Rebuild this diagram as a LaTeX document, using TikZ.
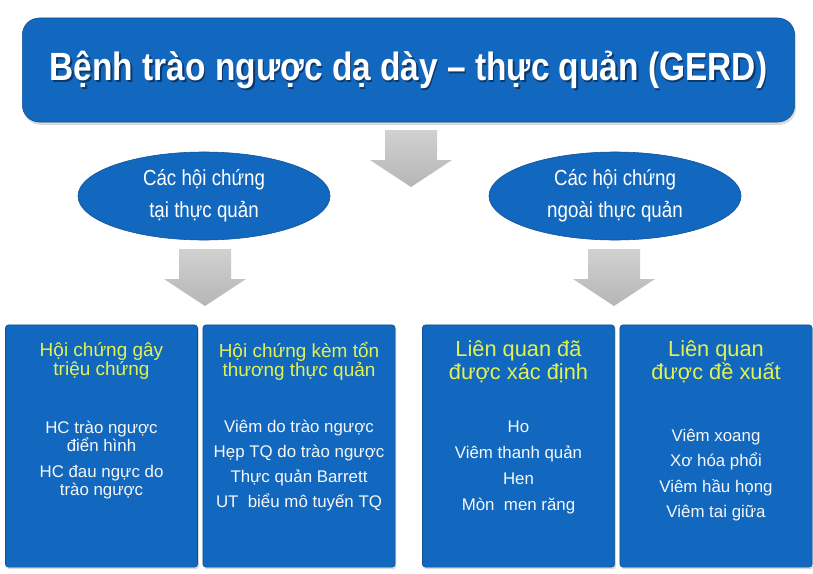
\documentclass[tikz,border=0pt]{standalone}
\usepackage{fontspec}
\setmainfont{Liberation Sans}
\newfontfamily\narrowsf[FakeStretch=0.86]{Liberation Sans}
\newfontfamily\titlesf[FakeStretch=0.85]{Liberation Sans Bold}
\usetikzlibrary{positioning,shapes.geometric,shadows}

\definecolor{gerdblue}{RGB}{18,104,190}
\definecolor{edgeblue}{RGB}{14,80,150}
\definecolor{headyellow}{RGB}{226,242,84}
\definecolor{arrgray}{RGB}{178,178,178}
\definecolor{shadeblue}{RGB}{10,35,70}

\tikzset{
  downarr/.pic={
    \shade[top color=arrgray!60, bottom color=arrgray!95]
      (-26,0) -- (26,0) -- (26,30) -- (41,30) -- (0,57) -- (-41,30) -- (-26,30) -- cycle;
  }
}

\begin{document}
\begin{tikzpicture}[
  x=0.025cm, y=-0.025cm,
  titlebox/.style={fill=gerdblue, draw=edgeblue, rounded corners=12pt,
                   minimum width=19.3cm, minimum height=2.6cm,
                   drop shadow={shadow xshift=1pt, shadow yshift=-2pt, opacity=0.3}},
  titletext/.style={text=white, font=\titlesf\fontsize{28}{30}\selectfont},
  group/.style={ellipse, fill=gerdblue, draw=edgeblue, minimum width=6.3cm, minimum height=2.2cm,
                inner sep=0pt, text=white, align=center,
                font=\narrowsf\fontsize{15.5}{22.5}\selectfont},
  panel/.style={fill=gerdblue, draw=edgeblue, rounded corners=2pt,
                minimum width=4.8cm, minimum height=6.05cm,
                drop shadow={shadow xshift=1pt, shadow yshift=-1.5pt, opacity=0.3}},
  head/.style={text=headyellow, align=center, font=\fontsize{13.5}{13.5}\selectfont},
  bighead/.style={text=headyellow, align=center, font=\fontsize{15.5}{16.5}\selectfont},
  items/.style={text=white!94!gray, align=center, font=\fontsize{12}{13}\selectfont},
]
\useasboundingbox (0,0) rectangle (813,573);

% top box
\node[titlebox] (gerd) at (408.5,70) {};
\node[titletext, text=shadeblue, opacity=0.7] (gerdShade) at (410,71.8) {Bệnh trào ngược dạ dày – thực quản (GERD)};
\node[titletext] (gerdText) at (408.5,70) {Bệnh trào ngược dạ dày – thực quản (GERD)};
\pic at (411,130) {downarr};

% two groups
\node[group] (grpIn)  at (204,196) {Các hội chứng\\tại thực quản};
\node[group] (grpOut) at (615,196) {Các hội chứng\\ngoài thực quản};
\pic at (205,249) {downarr};
\pic at (614,249) {downarr};

% panels
\node[panel] (pA) at (101.5,446) {};
\node[panel] (pB) at (299,446) {};
\node[panel] (pC) at (518.5,446) {};
\node[panel] (pD) at (716,446) {};

\node[head] (hA) at (101.5,361) {Hội chứng gây\\triệu chứng};
\node[head] (hB) at (299,361) {Hội chứng kèm tổn\\thương thực quản};
\node[bighead] (hC) at (518.5,362) {Liên quan đã\\được xác định};
\node[bighead] (hD) at (716,362) {Liên quan\\được đề xuất};

\node[items] (iA) at (101.5,460) {HC trào ngược\\điển hình\\[5pt]HC đau ngực do\\trào ngược};
\node[items] (iB) at (299,465.5) {Viêm do trào ngược\\[5pt]Hẹp TQ do trào ngược\\[5pt]Thực quản Barrett\\[5pt]UT\ \ biểu mô tuyến TQ};
\node[items] (iC) at (518.5,467) {Ho\\[5.5pt]Viêm thanh quản\\[5.5pt]Hen\\[5.5pt]Mòn\ \ men răng};
\node[items] (iD) at (716,475) {Viêm xoang\\[5pt]Xơ hóa phổi\\[5pt]Viêm hầu họng\\[5pt]Viêm tai giữa};

\end{tikzpicture}
\end{document}
